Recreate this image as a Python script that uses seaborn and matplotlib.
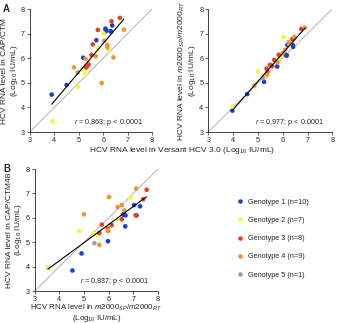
import numpy as np
import pandas as pd
import matplotlib
matplotlib.use("Agg")
import matplotlib.pyplot as plt
import seaborn as sns

sns.set_style("ticks")
plt.rcParams['font.family'] = ['Liberation Sans', 'DejaVu Sans']
plt.rcParams['mathtext.fontset'] = 'custom'
plt.rcParams['mathtext.rm'] = 'Liberation Sans'
plt.rcParams['mathtext.it'] = 'Liberation Sans:italic'

genotypes = ["Genotype 1 (n=10)", "Genotype 2 (n=7)", "Genotype 3 (n=8)",
             "Genotype 4 (n=9)", "Genotype 5 (n=1)"]
colors = ["#1a3fd0", "#f5f542", "#e8401f", "#f0962a", "#a0a0a0"]

# Panel A: Versant (x) vs CAP/CTM (y)
a_g1_x = [3.89, 4.50, 5.18, 5.72, 6.09, 6.10, 6.30, 6.37, 6.12, 6.32]
a_g1_y = [4.52, 4.91, 6.02, 6.73, 7.20, 7.09, 7.10, 7.33, 7.15, 7.08]
a_g2_x = [3.93, 4.95, 5.14, 5.28, 6.01, 5.79, 6.21]
a_g2_y = [3.43, 4.83, 5.53, 5.37, 7.01, 6.41, 6.35]
a_g3_x = [6.68, 6.34, 5.78, 5.57, 5.52, 5.40, 5.33, 5.30]
a_g3_y = [7.64, 7.50, 7.15, 6.56, 6.13, 5.74, 5.67, 5.62]
a_g4_x = [6.85, 6.04, 6.17, 6.17, 6.42, 5.70, 4.80, 5.28, 5.94]
a_g4_y = [7.16, 6.71, 6.54, 6.45, 6.03, 6.08, 5.63, 5.97, 4.99]
a_g5_x = [4.96]
a_g5_y = [5.42]

# Panel B (top right): Versant (x) vs m2000 (y)
b_g1_x = [3.97, 4.57, 5.25, 5.78, 6.12, 6.16, 6.19, 6.40, 6.42, 6.15]
b_g1_y = [3.87, 4.54, 5.04, 5.66, 6.14, 6.11, 6.54, 6.54, 6.46, 6.12]
b_g2_x = [3.98, 5.00, 5.25, 5.30, 6.04, 5.90, 5.32]
b_g2_y = [4.03, 5.46, 5.30, 5.30, 6.86, 6.05, 5.25]
b_g3_x = [6.75, 6.39, 5.84, 5.66, 5.49, 5.57, 5.35, 5.38]
b_g3_y = [7.19, 6.77, 6.14, 5.93, 5.73, 5.69, 5.58, 5.44]
b_g4_x = [6.90, 6.47, 6.24, 6.26, 6.10, 6.00, 5.79, 5.37, 4.86]
b_g4_y = [7.24, 6.86, 6.65, 6.57, 6.35, 6.20, 5.84, 5.33, 4.89]
b_g5_x = [5.20]
b_g5_y = [5.20]

# Panel C (bottom): m2000 (x) vs CAP/CTM48 (y)
c_g1_x = [4.53, 4.90, 5.97, 6.67, 6.59, 6.68, 7.03, 7.27, 7.13, 6.60]
c_g1_y = [3.84, 4.54, 5.04, 5.65, 6.14, 6.10, 6.52, 6.47, 6.10, 6.12]
c_g2_x = [3.53, 4.81, 5.38, 5.54, 6.35, 6.89, 5.45]
c_g2_y = [3.98, 5.46, 5.36, 5.30, 5.94, 6.82, 5.32]
c_g3_x = [7.54, 7.40, 7.09, 6.53, 5.72, 6.12, 5.96, 5.62]
c_g3_y = [7.15, 6.76, 6.10, 5.94, 5.72, 5.70, 5.56, 5.38]
c_g4_x = [7.11, 6.01, 5.00, 6.36, 6.53, 6.64, 5.97, 5.97, 5.62]
c_g4_y = [7.20, 6.85, 6.14, 6.44, 6.52, 6.30, 5.49, 5.45, 4.89]
c_g5_x = [5.42]
c_g5_y = [4.96]

ticks = [3, 4, 5, 6, 7, 8]
stats = ["= 0,863; p < 0.0001", "= 0,977; p < 0.0001", "= 0,837; p < 0.0001"]


def make_df(xs, ys):
    rows = []
    for g, x, y in zip(genotypes, xs, ys):
        for xi, yi in zip(x, y):
            rows.append((g, xi, yi))
    return pd.DataFrame(rows, columns=["geno", "x", "y"])


dfA = make_df([a_g1_x, a_g2_x, a_g3_x, a_g4_x, a_g5_x], [a_g1_y, a_g2_y, a_g3_y, a_g4_y, a_g5_y])
dfB = make_df([b_g1_x, b_g2_x, b_g3_x, b_g4_x, b_g5_x], [b_g1_y, b_g2_y, b_g3_y, b_g4_y, b_g5_y])
dfC = make_df([c_g1_x, c_g2_x, c_g3_x, c_g4_x, c_g5_x], [c_g1_y, c_g2_y, c_g3_y, c_g4_y, c_g5_y])

fig = plt.figure(figsize=(3.42, 3.23), dpi=100)
axA = fig.add_axes([30/342, 1-132/323, 122/342, 123/323])
axB = fig.add_axes([208.3/342, 1-132/323, 124/342, 123/323])
axC = fig.add_axes([34.7/342, 1-291/323, 123.3/342, 122/323])

fs = 5.2
for ax, df, st in zip([axA, axB, axC], [dfA, dfB, dfC], stats):
    ax.plot([3, 8], [3, 8], color="#a8a8a8", lw=0.6, zorder=1)
    sns.scatterplot(data=df, x="x", y="y", hue="geno", hue_order=genotypes,
                    palette=colors, s=11, edgecolor="none", ax=ax, legend=False, zorder=2)
    sns.regplot(data=df, x="x", y="y", scatter=False, ci=None, truncate=True,
                color="black", line_kws=dict(lw=0.8, zorder=3), ax=ax)
    ax.set_xlim(3, 8)
    ax.set_ylim(3, 8)
    ax.set_xticks(ticks)
    ax.set_yticks(ticks)
    ax.tick_params(labelsize=fs, length=2, width=0.5, pad=1.5)
    for s in ["left", "bottom"]:
        ax.spines[s].set_linewidth(0.6)
    sns.despine(ax=ax)
    ax.set_xlabel("")
    ax.set_ylabel("")
    ax.text(7.65, 3.38, r"$\it{r}$ " + st, ha="right", va="center", fontsize=fs)

axA.set_ylabel("HCV RNA level in CAP/CTM\n(Log$_{10}$ IU/mL)", fontsize=6, labelpad=1, linespacing=1.05)
axB.set_ylabel("HCV RNA level in $\\it{m}$2000$_{SP}$/$\\it{m}$2000$_{RT}$\n(Log$_{10}$ IU/mL)",
               fontsize=6, labelpad=1, linespacing=1.05)
axC.set_ylabel("HCV RNA level in CAP/CTM48\n(Log$_{10}$ IU/mL)", fontsize=6, labelpad=1, linespacing=1.05)
axC.set_xlabel("HCV RNA level in $\\it{m}$2000$_{SP}$/$\\it{m}$2000$_{RT}$\n(Log$_{10}$ IU/mL)",
               fontsize=5.7, labelpad=0, linespacing=0.92)
fig.text(182/342, 1-150/323, "HCV RNA level in Versant HCV 3.0 (Log$_{10}$ IU/mL)",
         ha="center", va="center", fontsize=6)

fig.text(3/342, 1-4/323, "A", fontsize=7, fontweight="bold", ha="left", va="top")
fig.text(3/342, 1-164/323, "B", fontsize=7, fontweight="bold", ha="left", va="top")

handles = [plt.Line2D([], [], marker="o", ls="", markersize=3.3, markerfacecolor=c,
                      markeredgecolor="none") for c in colors]
fig.legend(handles, genotypes, loc="upper left", bbox_to_anchor=(233/342, 1-195/323),
           frameon=False, fontsize=5.2, handletextpad=0.6, labelspacing=1.55,
           handlelength=1.0, borderpad=0)

fig.savefig("out.png", dpi=100)
